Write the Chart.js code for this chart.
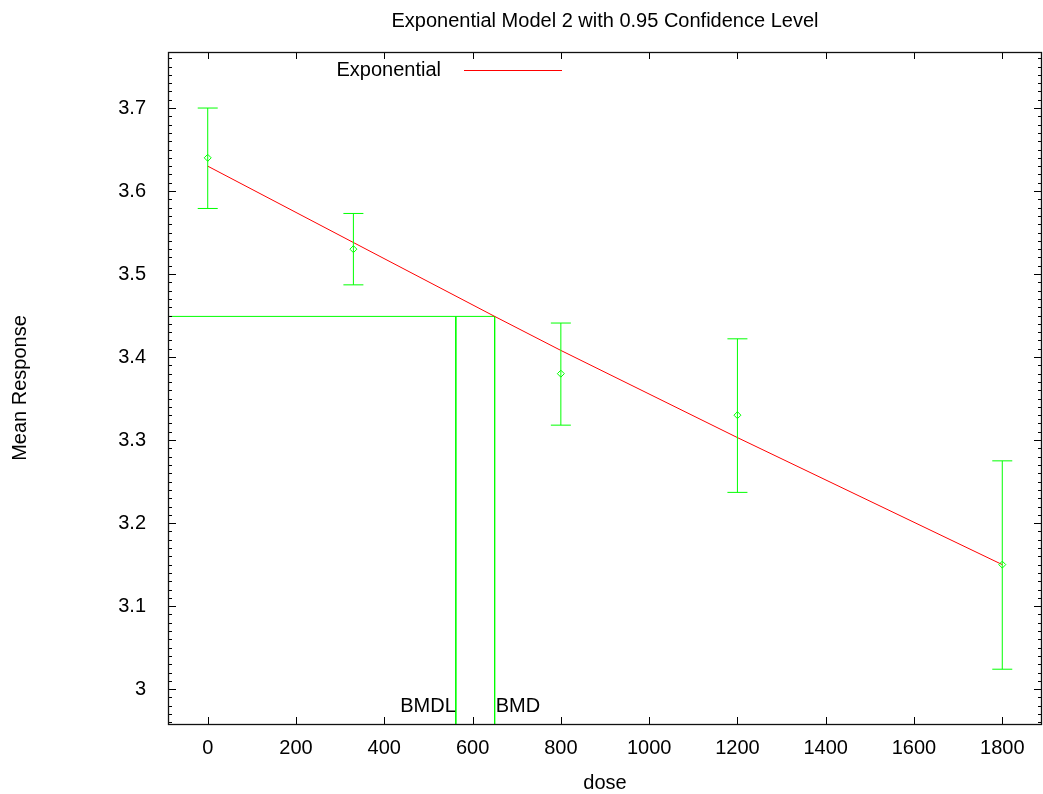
<!doctype html>
<html>
<head>
<meta charset="UTF-8">
<title>Exponential Model 2</title>
<script src="https://cdn.jsdelivr.net/npm/chart.js@4/dist/chart.umd.min.js"></script>
<style>
  html, body { margin: 0; background: #fff; overflow: hidden; }
  #wrap { width: 1043px; height: 794px; }
  #chart { display: block; }
</style>
</head>
<body>
<div id="wrap"><canvas id="chart"></canvas></div>
<script>
// observed dose groups
var doses = [0, 330, 800, 1200, 1800]
var means = [3.64, 3.53, 3.38, 3.33, 3.15]
var lower = [3.579, 3.487, 3.318, 3.237, 3.024]
var upper = [3.70, 3.573, 3.441, 3.422, 3.275]

// fitted exponential curve
var fitDose = [0, 330, 650, 800, 1200, 1800]
var fitMean = [3.630, 3.538, 3.449, 3.408, 3.303, 3.150]

var bmd = 650
var bmdl = 562
var bmrResponse = 3.449

var xTicks = [0, 200, 400, 600, 800, 1000, 1200, 1400, 1600, 1800]
var yTicks = [3, 3.1, 3.2, 3.3, 3.4, 3.5, 3.6, 3.7]
var xRange = [-90, 1890]
var yRange = [2.958, 3.7675]

var FONT = '"Liberation Sans", Arial, sans-serif'
var GREEN = '#00ff00'
var RED = '#ff0000'

var errData = []
for (var i = 0; i < doses.length; i++) {
  errData.push({x: doses[i], y: lower[i]})
  errData.push({x: doses[i], y: upper[i]})
  errData.push({x: doses[i], y: null})
}
var pts = doses.map(function(d, i) { return {x: d, y: means[i]} })
var fit = fitDose.map(function(d, i) { return {x: d, y: fitMean[i]} })
var bmdLine = [{x: xRange[0], y: bmrResponse}, {x: bmd, y: bmrResponse}, {x: bmd, y: yRange[0]}]
var bmdlLine = [{x: bmdl, y: bmrResponse}, {x: bmdl, y: yRange[0]}]

var gnuFrame = {
  id: 'gnuFrame',
  afterDraw: function(chart) {
    var ctx = chart.ctx
    var a = chart.chartArea
    var xs = chart.scales.x, ys = chart.scales.y
    ctx.save()
    ctx.strokeStyle = '#000'
    ctx.lineWidth = 1
    ctx.beginPath()
    // x major ticks, bottom and top
    xTicks.forEach(function(v) {
      var px = Math.round(xs.getPixelForValue(v)) + 0.5
      ctx.moveTo(px, a.bottom); ctx.lineTo(px, a.bottom - 7)
      ctx.moveTo(px, a.top); ctx.lineTo(px, a.top + 7)
    })
    // y minor ticks every 0.01
    for (var k = 296; k <= 376; k++) {
      var v = k / 100
      var py = Math.round(ys.getPixelForValue(v)) + 0.5
      var len = (k % 10 === 0) ? 8 : 4
      ctx.moveTo(a.left, py); ctx.lineTo(a.left + len, py)
      ctx.moveTo(a.right, py); ctx.lineTo(a.right - len, py)
    }
    ctx.stroke()
    ctx.lineWidth = 1.3
    ctx.strokeStyle = '#111'
    ctx.strokeRect(Math.round(a.left) + 0.5, Math.round(a.top) + 0.5, Math.round(a.right - a.left) - 1, Math.round(a.bottom - a.top))

    ctx.fillStyle = '#000'
    ctx.font = '20px ' + FONT
    // title
    ctx.textAlign = 'center'
    ctx.textBaseline = 'alphabetic'
    ctx.fillText('Exponential Model 2 with 0.95 Confidence Level', (a.left + a.right) / 2, 27)
    // x axis title
    ctx.fillText('dose', (a.left + a.right) / 2, 789)
    // y axis title
    ctx.save()
    ctx.translate(26, (a.top + a.bottom) / 2)
    ctx.rotate(-Math.PI / 2)
    ctx.fillText('Mean Response', 0, 0)
    ctx.restore()
    // legend
    ctx.textAlign = 'right'
    ctx.textBaseline = 'middle'
    ctx.fillText('Exponential', 441, 70)
    ctx.strokeStyle = RED
    ctx.lineWidth = 1
    ctx.beginPath()
    ctx.moveTo(464, 70.5); ctx.lineTo(562, 70.5)
    ctx.stroke()
    // BMD / BMDL labels
    ctx.textBaseline = 'alphabetic'
    ctx.fillText('BMDL', xs.getPixelForValue(bmdl), 712)
    ctx.textAlign = 'left'
    ctx.fillText('BMD', xs.getPixelForValue(bmd) + 1, 712)
    ctx.restore()
  }
}

new Chart(document.getElementById('chart'), {
  type: 'scatter',
  data: {
    datasets: [
      {
        label: 'data', data: pts, order: 0,
        pointStyle: 'rectRot', pointRadius: 3.5, pointBorderWidth: 1,
        borderColor: GREEN, backgroundColor: 'rgba(0,0,0,0)', showLine: false
      },
      {
        label: 'errors', data: errData, order: 1,
        showLine: true, spanGaps: false, borderColor: GREEN, borderWidth: 1,
        pointStyle: 'line', pointRadius: 10, pointBorderWidth: 1, pointBorderColor: GREEN
      },
      {
        label: 'Exponential', data: fit, order: 2,
        showLine: true, borderColor: RED, borderWidth: 1, pointRadius: 0
      },
      {
        label: 'BMD', data: bmdLine, order: 3,
        showLine: true, borderColor: GREEN, borderWidth: 1, pointRadius: 0
      },
      {
        label: 'BMDL', data: bmdlLine, order: 4,
        showLine: true, borderColor: GREEN, borderWidth: 1, pointRadius: 0
      }
    ]
  },
  options: {
    responsive: true,
    maintainAspectRatio: false,
    animation: false,
    layout: { autoPadding: false, padding: { top: 52, right: 1, left: 0, bottom: 0 } },
    plugins: {
      legend: { display: false },
      tooltip: { enabled: false },
      title: { display: false }
    },
    scales: {
      x: {
        type: 'linear', min: xRange[0], max: xRange[1],
        grid: { display: false, drawTicks: false },
        border: { display: false },
        afterBuildTicks: function(s) { s.ticks = xTicks.map(function(v) { return {value: v} }) },
        afterFit: function(s) { s.height = 70; s.paddingLeft = 0; s.paddingRight = 0 },
        ticks: {
          color: '#000', padding: 12, font: { family: FONT, size: 20 }, maxRotation: 0, autoSkip: false,
          callback: function(v) { return String(v) }
        }
      },
      y: {
        type: 'linear', min: yRange[0], max: yRange[1],
        grid: { display: false, drawTicks: false },
        border: { display: false },
        afterBuildTicks: function(s) { s.ticks = yTicks.map(function(v) { return {value: v} }) },
        afterFit: function(s) { s.width = 168; s.paddingTop = 0; s.paddingBottom = 0 },
        ticks: {
          color: '#000', padding: 22, font: { family: FONT, size: 20 }, autoSkip: false,
          callback: function(v) { return String(Number(v.toFixed(2))) }
        }
      }
    }
  },
  plugins: [gnuFrame]
})
</script>
</body>
</html>
